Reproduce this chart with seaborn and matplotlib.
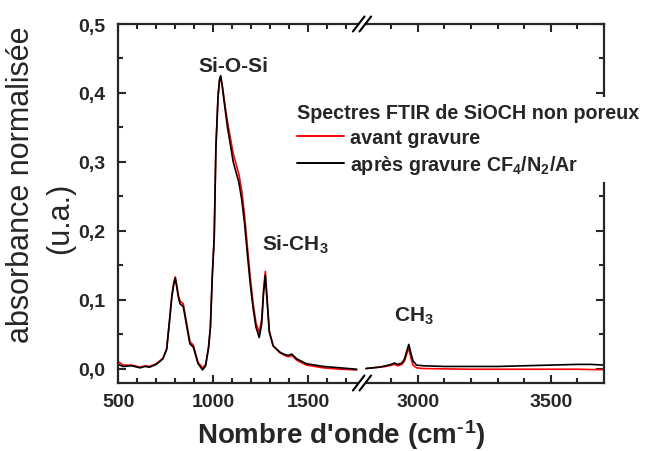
import numpy as np
import pandas as pd
import matplotlib
matplotlib.use("Agg")
import matplotlib.pyplot as plt
from matplotlib.lines import Line2D
from matplotlib.patches import Polygon
import seaborn as sns

# wavenumbers (cm-1), low range
wn_left = [500, 525, 570, 615, 640, 665, 700, 735, 755, 772, 782, 792, 800, 808,
           816, 825, 842, 860, 877, 895, 920, 944, 960, 975, 985, 995, 1005, 1014,
           1025, 1033, 1039, 1048, 1062, 1075, 1090, 1105, 1120, 1135, 1150, 1165,
           1180, 1195, 1210, 1225, 1242, 1255, 1265, 1274, 1283, 1295, 1315, 1350,
           1370, 1395, 1413, 1440, 1490, 1580, 1670, 1755]
avant_left = [0.010, 0.005, 0.005, 0.002, 0.004, 0.003, 0.007, 0.015, 0.029, 0.077,
              0.106, 0.125, 0.133, 0.121, 0.107, 0.098, 0.094, 0.066, 0.039, 0.034,
              0.009, 0.001, 0.006, 0.030, 0.060, 0.135, 0.190, 0.320, 0.392, 0.418,
              0.423, 0.410, 0.382, 0.358, 0.335, 0.312, 0.297, 0.282, 0.258, 0.222,
              0.176, 0.132, 0.094, 0.066, 0.052, 0.072, 0.115, 0.141, 0.104, 0.055,
              0.033, 0.023, 0.020, 0.017, 0.019, 0.012, 0.005, 0.001, -0.001, -0.002]
apres_left = [0.006, 0.003, 0.004, 0.001, 0.003, 0.002, 0.006, 0.014, 0.028, 0.075,
              0.104, 0.122, 0.131, 0.118, 0.104, 0.094, 0.090, 0.062, 0.036, 0.031,
              0.007, -0.002, 0.004, 0.030, 0.060, 0.135, 0.190, 0.322, 0.395, 0.420,
              0.425, 0.408, 0.377, 0.350, 0.325, 0.300, 0.285, 0.270, 0.245, 0.210,
              0.165, 0.122, 0.087, 0.060, 0.045, 0.065, 0.110, 0.135, 0.100, 0.053,
              0.033, 0.024, 0.021, 0.019, 0.021, 0.014, 0.007, 0.003, 0.001, -0.001]

# wavenumbers (cm-1), high range
wn_right = [2805, 2830, 2855, 2880, 2900, 2912, 2925, 2940, 2950, 2958, 2966, 2974,
            2982, 2995, 3020, 3100, 3200, 3300, 3400, 3500, 3600, 3650, 3700]
avant_right = [0.000, 0.001, 0.002, 0.003, 0.005, 0.006, 0.004, 0.006, 0.011, 0.021,
               0.030, 0.015, 0.005, 0.001, 0.000, -0.0005, -0.001, -0.001, -0.001,
               -0.001, -0.001, -0.0015, -0.0015]
apres_right = [0.000, 0.001, 0.002, 0.004, 0.006, 0.008, 0.006, 0.008, 0.014, 0.025,
               0.035, 0.022, 0.011, 0.005, 0.004, 0.003, 0.003, 0.003, 0.004, 0.005,
               0.006, 0.006, 0.005]

labels = ["avant gravure", "après gravure CF$_4$/N$_2$/Ar"]
colors = ["red", "black"]
yticks = [0.0, 0.1, 0.2, 0.3, 0.4, 0.5]
ytick_labels = ["0,0", "0,1", "0,2", "0,3", "0,4", "0,5"]

sns.set_style("ticks")
plt.rcParams["font.family"] = ["Liberation Sans", "DejaVu Sans"]
plt.rcParams["mathtext.fontset"] = "custom"
plt.rcParams["mathtext.rm"] = "Liberation Sans:bold"
plt.rcParams["mathtext.it"] = "Liberation Sans:bold"
plt.rcParams["mathtext.bf"] = "Liberation Sans:bold"

def long_df(wn, a, b):
    return pd.concat([
        pd.DataFrame({"wn": wn, "abs": a, "spectre": labels[0]}),
        pd.DataFrame({"wn": wn, "abs": b, "spectre": labels[1]}),
    ])

df_left = long_df(wn_left, avant_left, apres_left)
df_right = long_df(wn_right, avant_right, apres_right)
pal = dict(zip(labels, colors))

W, H = 646, 452
fig = plt.figure(figsize=(W / 100, H / 100), dpi=100)
x0, xb, x1 = 117.7, 362.0, 604.0
ytop, ybot = 25.0, 384.0
ax1 = fig.add_axes([x0 / W, 1 - ybot / H, (xb - x0) / W, (ybot - ytop) / H])
ax2 = fig.add_axes([xb / W, 1 - ybot / H, (x1 - xb) / W, (ybot - ytop) / H])

for ax, d in [(ax1, df_left), (ax2, df_right)]:
    sns.lineplot(data=d, x="wn", y="abs", hue="spectre", hue_order=labels,
                 palette=pal, estimator=None, sort=False, linewidth=1.2,
                 legend=False, ax=ax)
    ax.set_ylim(-0.021, 0.5)
    ax.set_xlabel("")
    ax.set_ylabel("")
    for s in ax.spines.values():
        s.set_linewidth(1.6)
    ax.tick_params(which="both", direction="in", width=1.5, top=True,
                   labelsize=14, pad=7)
    ax.tick_params(which="major", length=6)
    ax.tick_params(which="minor", length=3.5)

ax1.set_xlim(497, 1783)
ax1.set_xticks([500, 1000, 1500])
ax1.set_xticks(np.arange(600, 1800, 100), minor=True)
ax1.set_yticks(yticks, ytick_labels)
ax1.set_yticks([0.05, 0.15, 0.25, 0.35, 0.45], minor=True)
ax1.spines["right"].set_visible(False)
ax1.tick_params(axis="y", which="both", right=False, pad=9)

ax2.set_xlim(2790, 3700)
ax2.set_xticks([3000, 3500])
ax2.set_xticks(np.arange(2900, 3700, 100), minor=True)
ax2.set_yticks(yticks)
ax2.set_yticks([0.05, 0.15, 0.25, 0.35, 0.45], minor=True)
ax2.spines["left"].set_visible(False)
ax2.tick_params(axis="y", which="both", left=False, right=True, labelleft=False)

for lab in ax1.get_xticklabels() + ax1.get_yticklabels() + ax2.get_xticklabels():
    lab.set_fontweight("bold")

# axis break marks
def fp(px, py):
    return (px / W, 1 - py / H)

for yc in (ytop, ybot):
    d1 = [fp(xb - 3.3 - 5.8, yc + 7.5), fp(xb - 3.3 + 5.8, yc - 7.5)]
    d2 = [fp(xb + 3.3 - 5.8, yc + 7.5), fp(xb + 3.3 + 5.8, yc - 7.5)]
    fig.add_artist(Polygon([d1[0], d1[1], d2[1], d2[0]], closed=True,
                           transform=fig.transFigure, facecolor="white",
                           edgecolor="none", zorder=10))
    for dd in (d1, d2):
        fig.add_artist(Line2D([dd[0][0], dd[1][0]], [dd[0][1], dd[1][1]],
                              transform=fig.transFigure, color="black",
                              linewidth=1.5, zorder=11))

# peak labels
ax1.text(1104, 0.432, "Si-O-Si", ha="center", va="baseline", fontsize=15,
         fontweight="bold")
ax1.text(1256, 0.173, "Si-CH$_3$", ha="left", va="baseline", fontsize=15,
         fontweight="bold")
ax2.text(2912, 0.069, "CH$_3$", ha="left", va="baseline", fontsize=15,
         fontweight="bold")

# axis titles
fig.text(21 / W, 1 - 185 / H, "absorbance normalisée", rotation=90,
         ha="center", va="center", fontsize=22)
fig.text(60 / W, 1 - 218 / H, "(u.a.)", rotation=90, ha="center",
         va="center", fontsize=22)
fig.text(341 / W, 1 - 444 / H, "Nombre d'onde (cm$^{\u2010}$$^{1}$)", ha="center",
         va="baseline", fontsize=20, fontweight="bold")

handles = [Line2D([], [], color=c, linewidth=1.4) for c in colors]
leg = fig.legend(handles, labels, title="Spectres FTIR de SiOCH non poreux",
                 loc="upper left", bbox_to_anchor=(281 / W, 1 - 88 / H),
                 frameon=True, fancybox=False, framealpha=1, edgecolor="none",
                 facecolor="white", borderpad=0.3, handlelength=2.4,
                 handletextpad=0.3, labelspacing=0.3, alignment="left",
                 prop={"weight": "bold", "size": 14.2},
                 title_fontproperties={"weight": "bold", "size": 14.2})
leg.set_zorder(20)

fig.savefig("out.png", dpi=100)
